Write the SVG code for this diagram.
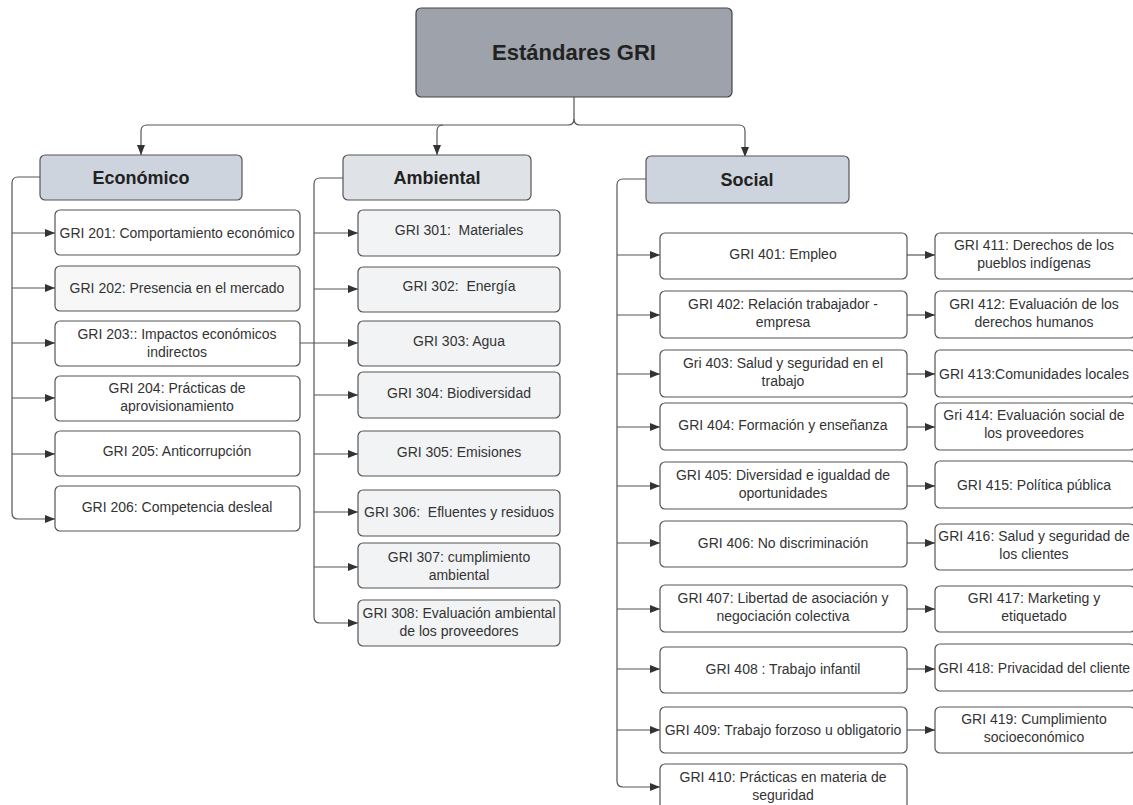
<svg xmlns="http://www.w3.org/2000/svg" width="1133" height="805" viewBox="0 0 1133 805">
<defs>
<marker id="ah" viewBox="0 0 10 8" refX="10" refY="4" markerWidth="10" markerHeight="8" markerUnits="userSpaceOnUse" orient="auto"><path d="M0,0 L10,4 L0,8 z" fill="#333"/></marker>
<style>
.b{fill:#fff;stroke:#555;stroke-width:1.2}
.g{fill:#f2f3f5;stroke:#555;stroke-width:1.2}
.t{font-family:"Liberation Sans",Arial,sans-serif;font-size:14px;fill:#333;text-anchor:middle;white-space:pre}
.h{font-family:"Liberation Sans",Arial,sans-serif;font-size:18px;font-weight:bold;fill:#222;text-anchor:middle}
.c{fill:none;stroke:#555;stroke-width:1.2}
.a{fill:none;stroke:#555;stroke-width:1.2;marker-end:url(#ah)}
</style>
</defs>
<rect width="1133" height="805" fill="#fff"/>
<g id="connectors">
<path class="a" d="M574,97 V119 Q574,125 568,125 H147 Q141,125 141,131 V155"/>
<path class="a" d="M443,125 Q437,125 437,131 V155"/>
<path class="a" d="M574,119 Q574,125 580,125 H739 Q745,125 745,131 V157"/>
<path class="a" d="M40,177 H18 Q12,177 12,183 V513 Q12,519 18,519 H55"/>
<path class="a" d="M12,233 H55"/><path class="a" d="M12,288 H55"/><path class="a" d="M12,343 H55"/><path class="a" d="M12,398 H55"/><path class="a" d="M12,454 H55"/>
<path class="a" d="M343,178 H320 Q314,178 314,184 V617 Q314,623 320,623 H358"/>
<path class="a" d="M314,233 H358"/><path class="a" d="M314,289 H358"/><path class="a" d="M300,343 H358"/><path class="a" d="M314,395 H358"/><path class="a" d="M314,454 H358"/><path class="a" d="M314,512 H358"/><path class="a" d="M314,567 H358"/>
<path class="a" d="M646,179 H623 Q617,179 617,185 V781 Q617,787 623,787 H660"/>
<path class="a" d="M617,255 H660"/><path class="a" d="M617,315 H660"/><path class="a" d="M617,374 H660"/><path class="a" d="M617,427 H660"/><path class="a" d="M617,486 H660"/><path class="a" d="M617,543 H660"/><path class="a" d="M617,609 H660"/><path class="a" d="M617,669 H660"/><path class="a" d="M617,730 H660"/>
<path class="a" d="M907,255 H935"/><path class="a" d="M907,315 H935"/><path class="a" d="M907,374 H935"/><path class="a" d="M907,427 H935"/><path class="a" d="M907,486 H935"/><path class="a" d="M907,543 H935"/><path class="a" d="M907,609 H935"/><path class="a" d="M907,669 H935"/><path class="a" d="M907,730 H935"/>
</g>
<g id="root"><rect x="416" y="8" width="316" height="89" rx="5" fill="#9da2ab" stroke="#444" stroke-width="1.2"/><text x="574" y="60" class="h" style="font-size:22px">Estándares GRI</text></g>
<g id="economico"><rect x="40" y="155" width="202" height="45" rx="5" fill="#ced4de" stroke="#555" stroke-width="1.2"/><text x="141" y="184" class="h">Económico</text></g>
<g id="ambiental"><rect x="343" y="155" width="188" height="45" rx="5" fill="#dfe2e7" stroke="#555" stroke-width="1.2"/><text x="437" y="184" class="h">Ambiental</text></g>
<g id="social"><rect x="646" y="156" width="203" height="47" rx="5" fill="#ced4de" stroke="#555" stroke-width="1.2"/><text x="747" y="186" class="h">Social</text></g>

<g id="gri201"><rect class="b" x="55" y="210" width="245" height="45" rx="5"/><text class="t" x="177" y="238">GRI 201: Comportamiento económico</text></g>
<g id="gri202"><rect class="g" x="55" y="266" width="245" height="45" rx="5" style="fill:#f7f7f8"/><text class="t" x="177" y="293">GRI 202: Presencia en el mercado</text></g>
<g id="gri203"><rect class="b" x="55" y="321" width="245" height="45" rx="5"/><text class="t" x="177" y="339">GRI 203:: Impactos económicos</text><text class="t" x="177" y="357">indirectos</text></g>
<g id="gri204"><rect class="b" x="55" y="376" width="245" height="45" rx="5"/><text class="t" x="177" y="393">GRI 204: Prácticas de</text><text class="t" x="177" y="411">aprovisionamiento</text></g>
<g id="gri205"><rect class="b" x="55" y="431" width="245" height="45" rx="5"/><text class="t" x="177" y="456">GRI 205: Anticorrupción</text></g>
<g id="gri206"><rect class="b" x="55" y="486" width="245" height="45" rx="5"/><text class="t" x="177" y="512">GRI 206: Competencia desleal</text></g>

<g id="gri301"><rect class="g" x="358" y="210" width="202" height="46" rx="5"/><text class="t" x="459" y="235">GRI 301:  Materiales</text></g>
<g id="gri302"><rect class="g" x="358" y="267" width="202" height="45" rx="5"/><text class="t" x="459" y="291">GRI 302:  Energía</text></g>
<g id="gri303"><rect class="g" x="358" y="321" width="202" height="45" rx="5"/><text class="t" x="459" y="346">GRI 303: Agua</text></g>
<g id="gri304"><rect class="g" x="358" y="372" width="202" height="46" rx="5"/><text class="t" x="459" y="398">GRI 304: Biodiversidad</text></g>
<g id="gri305"><rect class="g" x="358" y="431" width="202" height="45" rx="5"/><text class="t" x="459" y="457">GRI 305: Emisiones</text></g>
<g id="gri306"><rect class="g" x="358" y="490" width="202" height="46" rx="5"/><text class="t" x="459" y="517">GRI 306:  Efluentes y residuos</text></g>
<g id="gri307"><rect class="g" x="358" y="543" width="202" height="45" rx="5"/><text class="t" x="459" y="562">GRI 307: cumplimiento</text><text class="t" x="459" y="580">ambiental</text></g>
<g id="gri308"><rect class="g" x="358" y="600" width="202" height="46" rx="5"/><text class="t" x="459" y="618">GRI 308: Evaluación ambiental</text><text class="t" x="459" y="636">de los proveedores</text></g>

<g id="gri401"><rect class="b" x="660" y="233" width="247" height="46" rx="5"/><text class="t" x="783" y="259">GRI 401: Empleo</text></g>
<g id="gri402"><rect class="b" x="660" y="291" width="247" height="47" rx="5"/><text class="t" x="783" y="309">GRI 402: Relación trabajador -</text><text class="t" x="783" y="327">empresa</text></g>
<g id="gri403"><rect class="b" x="660" y="350" width="247" height="47" rx="5"/><text class="t" x="783" y="368">Gri 403: Salud y seguridad en el</text><text class="t" x="783" y="386">trabajo</text></g>
<g id="gri404"><rect class="b" x="660" y="403" width="247" height="47" rx="5"/><text class="t" x="783" y="430">GRI 404: Formación y enseñanza</text></g>
<g id="gri405"><rect class="b" x="660" y="462" width="247" height="47" rx="5"/><text class="t" x="783" y="480">GRI 405: Diversidad e igualdad de</text><text class="t" x="783" y="498">oportunidades</text></g>
<g id="gri406"><rect class="b" x="660" y="521" width="247" height="46" rx="5"/><text class="t" x="783" y="548">GRI 406: No discriminación</text></g>
<g id="gri407"><rect class="b" x="660" y="585" width="247" height="47" rx="5"/><text class="t" x="783" y="603">GRI 407: Libertad de asociación y</text><text class="t" x="783" y="621">negociación colectiva</text></g>
<g id="gri408"><rect class="b" x="660" y="647" width="247" height="46" rx="5"/><text class="t" x="783" y="674">GRI 408 : Trabajo infantil</text></g>
<g id="gri409"><rect class="b" x="660" y="707" width="247" height="46" rx="5"/><text class="t" x="783" y="735">GRI 409: Trabajo forzoso u obligatorio</text></g>
<g id="gri410"><rect class="b" x="660" y="764" width="247" height="47" rx="5"/><text class="t" x="783" y="782">GRI 410: Prácticas en materia de</text><text class="t" x="783" y="800">seguridad</text></g>

<g id="gri411"><rect class="b" x="935" y="233" width="200" height="46" rx="5"/><text class="t" x="1034" y="250">GRI 411: Derechos de los</text><text class="t" x="1034" y="268">pueblos indígenas</text></g>
<g id="gri412"><rect class="b" x="935" y="291" width="200" height="47" rx="5"/><text class="t" x="1034" y="309">GRI 412: Evaluación de los</text><text class="t" x="1034" y="327">derechos humanos</text></g>
<g id="gri413"><rect class="b" x="935" y="350" width="200" height="47" rx="5"/><text class="t" x="1034" y="379">GRI 413:Comunidades locales</text></g>
<g id="gri414"><rect class="b" x="935" y="403" width="200" height="47" rx="5"/><text class="t" x="1034" y="420">Gri 414: Evaluación social de</text><text class="t" x="1034" y="438">los proveedores</text></g>
<g id="gri415"><rect class="b" x="935" y="461" width="200" height="47" rx="5"/><text class="t" x="1034" y="490">GRI 415: Política pública</text></g>
<g id="gri416"><rect class="b" x="935" y="524" width="200" height="46" rx="5"/><text class="t" x="1034" y="541">GRI 416: Salud y seguridad de</text><text class="t" x="1034" y="559">los clientes</text></g>
<g id="gri417"><rect class="b" x="935" y="586" width="200" height="46" rx="5"/><text class="t" x="1034" y="603">GRI 417: Marketing y</text><text class="t" x="1034" y="621">etiquetado</text></g>
<g id="gri418"><rect class="b" x="935" y="644" width="200" height="47" rx="5"/><text class="t" x="1034" y="673">GRI 418: Privacidad del cliente</text></g>
<g id="gri419"><rect class="b" x="935" y="707" width="200" height="46" rx="5"/><text class="t" x="1034" y="724">GRI 419: Cumplimiento</text><text class="t" x="1034" y="742">socioeconómico</text></g>
</svg>
